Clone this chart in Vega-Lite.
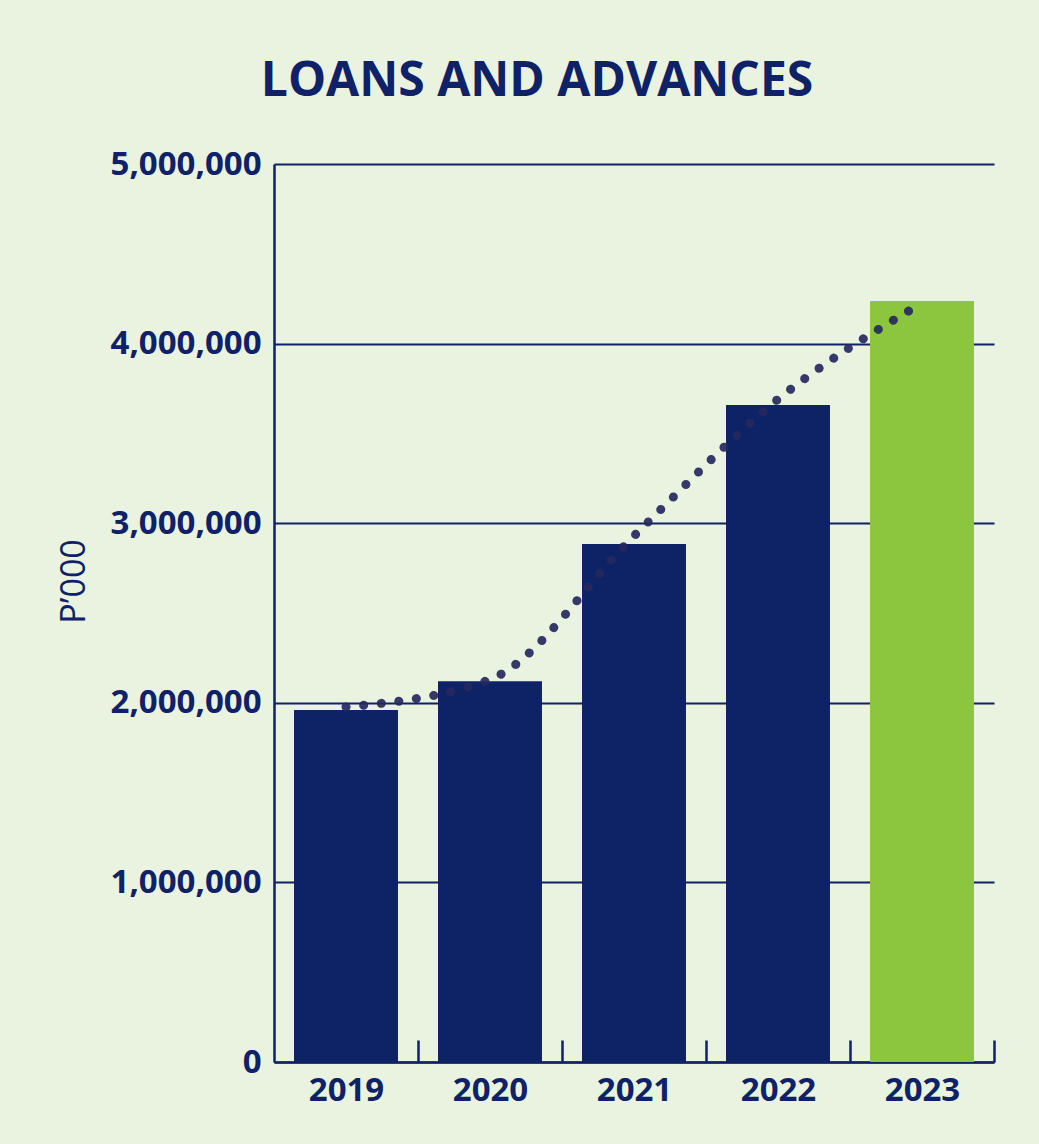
{
  "$schema": "https://vega.github.io/schema/vega-lite/v6.json",
  "width": 720,
  "height": 898,
  "padding": {"left": 57, "top": 58, "right": 43, "bottom": 60},
  "background": "#EAF3DF",
  "title": {
    "text": "LOANS AND ADVANCES",
    "font": "Open Sans",
    "fontSize": 48,
    "fontWeight": "bold",
    "color": "#0F2167",
    "anchor": "middle",
    "dx": -97,
    "offset": 42
  },
  "config": {
    "view": {"stroke": null},
    "font": "Open Sans"
  },
  "data": {
    "values": [
      {"year": "2019", "value": 1960000, "trend": 1977000},
      {"year": "2020", "value": 2120000, "trend": 2130000},
      {"year": "2021", "value": 2884000, "trend": 2929000},
      {"year": "2022", "value": 3658000, "trend": 3690000},
      {"year": "2023", "value": 4237000, "trend": 4226000}
    ]
  },
  "encoding": {
    "x": {
      "field": "year",
      "type": "nominal",
      "scale": {"paddingInner": 0.278, "paddingOuter": 0.139},
      "axis": {
        "title": null,
        "labelAngle": 0,
        "labelFont": "Open Sans",
        "labelFontWeight": "bold",
        "labelFontSize": 33,
        "labelColor": "#0F2167",
        "labelPadding": 34,
        "labelOffset": -72,
        "domainColor": "#0F2167",
        "domainWidth": 2.5,
        "tickOffset": 72,
        "tickColor": "#0F2167",
        "tickWidth": 2.5,
        "tickSize": -22,
        "grid": false
      }
    }
  },
  "layer": [
    {
      "mark": {"type": "bar"},
      "encoding": {
        "y": {
          "field": "value",
          "type": "quantitative",
          "scale": {"domain": [0, 5000000], "nice": false},
          "axis": {
            "values": [0, 1000000, 2000000, 3000000, 4000000, 5000000],
            "format": ",.0f",
            "title": "P’000",
            "titleFont": "Open Sans",
            "titleFontWeight": "normal",
            "titleFontSize": 34,
            "titleColor": "#0F2167",
            "titlePadding": 19,
            "titleY": 417,
            "labelFont": "Open Sans",
            "labelFontWeight": "bold",
            "labelFontSize": 33,
            "labelColor": "#0F2167",
            "labelPadding": 13,
            "ticks": false,
            "domainColor": "#0F2167",
            "domainWidth": 2.5,
            "grid": true,
            "gridColor": "#0F2167",
            "gridWidth": 2,
            "gridOpacity": 1
          }
        },
        "color": {
          "condition": {"test": "datum.year == '2023'", "value": "#8CC63F"},
          "value": "#0E2266"
        }
      }
    },
    {
      "mark": {
        "type": "line",
        "interpolate": "monotone",
        "strokeDash": [0.1, 17.6],
        "strokeCap": "round",
        "strokeWidth": 9,
        "color": "#25295E",
        "opacity": 0.92
      },
      "encoding": {
        "y": {"field": "trend", "type": "quantitative"}
      }
    }
  ]
}
